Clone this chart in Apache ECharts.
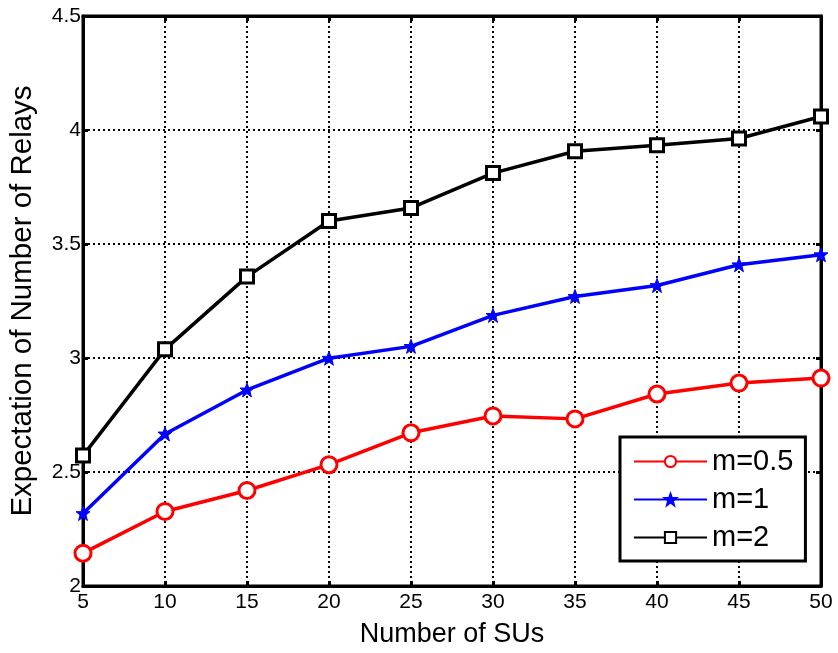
<!DOCTYPE html>
<html><head><meta charset="utf-8">
<script src="https://cdn.jsdelivr.net/npm/echarts@6/dist/echarts.min.js"></script>
<style>html,body{margin:0;padding:0;background:#fff}#c{width:838px;height:653px}</style>
</head><body><div id="c"></div>
<script>
const xValues = [5, 10, 15, 20, 25, 30, 35, 40, 45, 50];
const m05 = [2.144, 2.327, 2.419, 2.532, 2.672, 2.746, 2.733, 2.842, 2.890, 2.912];
const m1 = [2.318, 2.667, 2.860, 2.999, 3.051, 3.187, 3.270, 3.318, 3.409, 3.453];
const m2 = [2.572, 3.038, 3.357, 3.601, 3.658, 3.811, 3.907, 3.933, 3.963, 4.059];
const seriesNames = ['m=0.5', 'm=1', 'm=2'];

const pairs = v => xValues.map((x, i) => [x, v[i]]);
const font = 'Liberation Sans, Arial, sans-serif';
const star = 'path://M0,-10 L2.5,-3 L9.5,-3 L4,1.5 L6,9 L0,4.5 L-6,9 L-4,1.5 L-9.5,-3 L-2.5,-3 Z';

const chart = echarts.init(document.getElementById('c'));
const axisCommon = {
  axisLine: {show: true, lineStyle: {color: '#000', width: 3}},
  axisTick: {show: true, inside: true, length: 5, lineStyle: {color: '#000', width: 3}},
};
chart.setOption({
  animation: false,
  backgroundColor: '#fff',
  grid: {left: 80, right: 17, top: 16, bottom: 64, show: true, borderColor: '#000', borderWidth: 3},
  xAxis: [{
    type: 'value', min: 5, max: 50, interval: 5,
    name: 'Number of SUs', nameLocation: 'middle', nameGap: 35,
    nameTextStyle: {fontFamily: font, fontSize: 27, color: '#000'},
    ...axisCommon,
    axisLabel: {fontFamily: font, fontSize: 21, color: '#000', margin: 6},
    splitLine: {show: true, lineStyle: {color: '#000', type: [2, 3], width: 2}}
  }, {
    type: 'value', min: 5, max: 50, interval: 5, position: 'top',
    ...axisCommon, axisLabel: {show: false}, splitLine: {show: false}
  }],
  yAxis: [{
    type: 'value', min: 2, max: 4.5, interval: 0.5,
    name: 'Expectation of Number of Relays', nameLocation: 'middle', nameGap: 45,
    nameTextStyle: {fontFamily: font, fontSize: 29.5, color: '#000'},
    ...axisCommon,
    axisLabel: {fontFamily: font, fontSize: 21, color: '#000', margin: 2, formatter: v => String(v)},
    splitLine: {show: true, lineStyle: {color: '#000', type: [2, 3], width: 2}}
  }, {
    type: 'value', min: 2, max: 4.5, interval: 0.5, position: 'right',
    ...axisCommon, axisLabel: {show: false}, splitLine: {show: false}
  }],
  legend: {
    left: 620, top: 437, orient: 'vertical',
    padding: [10, 12, 9, 13], itemGap: 9,
    itemWidth: 73, itemHeight: 14,
    borderColor: '#000', borderWidth: 3, backgroundColor: '#fff',
    textStyle: {fontFamily: font, fontSize: 29, color: '#000'},
    data: seriesNames
  },
  series: [
    {name: seriesNames[0], type: 'line', data: pairs(m05), symbol: 'circle', symbolSize: 16,
     itemStyle: {color: '#fff', borderColor: '#ff0000', borderWidth: 3},
     lineStyle: {color: '#ff0000', width: 3.5}, color: '#ff0000', z: 3},
    {name: seriesNames[1], type: 'line', data: pairs(m1), symbol: star, symbolSize: 14,
     itemStyle: {color: '#0000ff', borderColor: '#0000ff', borderWidth: 1},
     lineStyle: {color: '#0000ff', width: 3.5}, color: '#0000ff', z: 3},
    {name: seriesNames[2], type: 'line', data: pairs(m2), symbol: 'rect', symbolSize: 13,
     itemStyle: {color: '#fff', borderColor: '#000', borderWidth: 3},
     lineStyle: {color: '#000', width: 3.5}, color: '#000', z: 3}
  ]
});
</script></body></html>
